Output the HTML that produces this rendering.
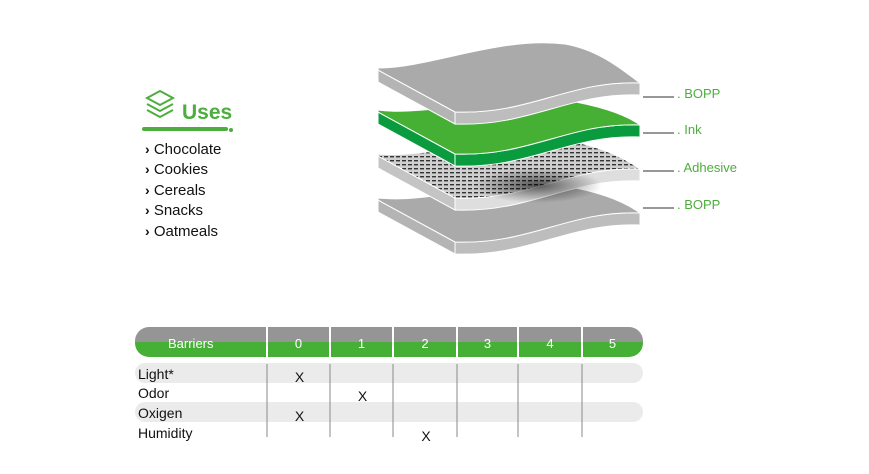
<!DOCTYPE html>
<html><head><meta charset="utf-8"><style>
body{margin:0;background:#fff;width:869px;height:469px;overflow:hidden;font-family:"Liberation Sans",sans-serif}
</style></head><body>
<svg width="869" height="469" viewBox="0 0 869 469">
<defs>
<pattern id="hatch" width="6" height="4" patternUnits="userSpaceOnUse">
<rect width="6" height="4" fill="#cfcfcf"/><rect width="4" height="1.4" fill="#333"/>
</pattern>
<radialGradient id="dark" cx="0.55" cy="0.6" r="0.4"><stop offset="0" stop-color="#000" stop-opacity="0.6"/><stop offset="1" stop-color="#000" stop-opacity="0"/></radialGradient>
</defs>
<g>
<g fill="none" stroke="#4cae3c" stroke-width="2">
<path d="M147,98 L160,91 L173,98 L160,105 Z"/><path d="M147,104 L160,111 L173,104"/><path d="M147,110 L160,117 L173,110"/>
</g>
<text x="182" y="119" font-size="21" font-weight="bold" fill="#4cae3c">Uses</text>
<line x1="144" y1="129" x2="226" y2="129" stroke="#4cae3c" stroke-width="4" stroke-linecap="round"/>
<circle cx="231" cy="130" r="2" fill="#4cae3c"/>
<g font-size="15" fill="#111">
<text x="145" y="154"><tspan font-weight="bold" font-size="14">›</tspan> Chocolate</text>
<text x="145" y="174"><tspan font-weight="bold" font-size="14">›</tspan> Cookies</text>
<text x="145" y="195"><tspan font-weight="bold" font-size="14">›</tspan> Cereals</text>
<text x="145" y="215"><tspan font-weight="bold" font-size="14">›</tspan> Snacks</text>
<text x="145" y="236"><tspan font-weight="bold" font-size="14">›</tspan> Oatmeals</text>
</g>
</g>
<g id="layers"></g>
<g id="table"></g>
</svg>
<script>
const layerNames=['BOPP','Ink','Adhesive','BOPP'];
const layerOffsets=[0,42,86,130];
const NS='http://www.w3.org/2000/svg';
function mk(p,t,a){const e=document.createElementNS(NS,t);for(const k in a)e.setAttribute(k,a[k]);p.appendChild(e);return e;}
const L=document.getElementById('layers');
const styles=[['#aaaaaa','#bdbdbd','#b4b4b4'],['#46b035','#0a9b3f','#0a9b3f'],['url(#hatch)','#dedede','#c4c4c4'],['#aaaaaa','#bdbdbd','#b4b4b4']];
const peakShift=[0,14,10,12];
const labelY=[97,133,171,208];
for(let i=3;i>=0;i--){
 const o=layerOffsets[i],g=mk(L,'g',{});
 
 
 const y=v=>v+o,t=12,p=peakShift[i];
 const [face,wall,side]=styles[i];
 mk(g,'path',{d:`M378,${y(70)} L455,${y(112)} L455,${y(112)+t} L378,${y(70)+t} Z`,fill:side,stroke:'#fff','stroke-width':1});
 mk(g,'path',{d:`M455,${y(112)} C530,${y(115)} 570,${y(80)} 640,${y(83)} L640,${y(83)+t} C570,${y(80)+t} 530,${y(115)+t} 455,${y(112)+t} Z`,fill:wall,stroke:'#fff','stroke-width':1});
 mk(g,'path',{d:`M378,${y(68)} C430,${y(68)+p/2} 500,${y(36)+p} 565,${y(44)+p} C600,${y(50)+p} 625,${y(72)} 640,${y(83)} C570,${y(80)} 530,${y(115)} 455,${y(112)} L378,${y(70)} Z`,fill:face,stroke:'#fff','stroke-width':1});
 if(i==2) mk(g,'ellipse',{cx:530,cy:y(95),rx:80,ry:22,fill:'url(#dark)'});
 const ly=labelY[i];
 mk(g,'line',{x1:643,y1:ly,x2:674,y2:ly,stroke:'#777','stroke-width':1.5});
 const tx=mk(g,'text',{x:677,y:ly+1,'font-size':13,fill:'#4cae3c'});
 tx.textContent='. '+layerNames[i];
 
 
}
// table data
const columns=['0','1','2','3','4','5'];
const barriers=['Light*','Odor','Oxigen','Humidity'];
const barrierLevels=[0,1,0,2];
const T=document.getElementById('table');
const colX=[267,330,393,457,518,582,643];
const colIdx=v=>(colX[v]+colX[v+1])/2;
mk(T,'clipPath',{id:'hc'});
mk(T.lastChild,'rect',{x:135,y:327,width:508,height:30,rx:14});
mk(T,'rect',{x:135,y:327,width:508,height:15,fill:'#959595','clip-path':'url(#hc)'});
mk(T,'rect',{x:135,y:342,width:508,height:15,fill:'#45b035','clip-path':'url(#hc)'});
const bt=mk(T,'text',{x:168,y:348,'font-size':13,fill:'#fff'});bt.textContent='Barriers';


columns.forEach((c,k)=>{
 mk(T,'line',{x1:colX[k],y1:327,x2:colX[k],y2:357,stroke:'#fff','stroke-width':2});
 const h=mk(T,'text',{x:colIdx(k),y:348,'font-size':13,fill:'#fff','text-anchor':'middle'});
 h.textContent=c;
 
 
});
const rowY=[374,393,413,433];
barriers.forEach((b,r)=>{
 if(r%2==0) mk(T,'rect',{x:135,y:rowY[r]-11,width:508,height:20,rx:10,fill:'#ebebeb'});
});
colX.slice(0,6).forEach(x=>mk(T,'line',{x1:x,y1:364,x2:x,y2:437,stroke:'#888','stroke-width':1}));
barriers.forEach((b,r)=>{
 const t=mk(T,'text',{x:138,y:rowY[r]+5,'font-size':14,fill:'#111'});t.textContent=b;
 
 
 const x=mk(T,'text',{x:colIdx(barrierLevels[r])+1,y:rowY[r]+8,'font-size':14,fill:'#111','text-anchor':'middle'});x.textContent='X';
 
 
});
</script>
</body></html>
